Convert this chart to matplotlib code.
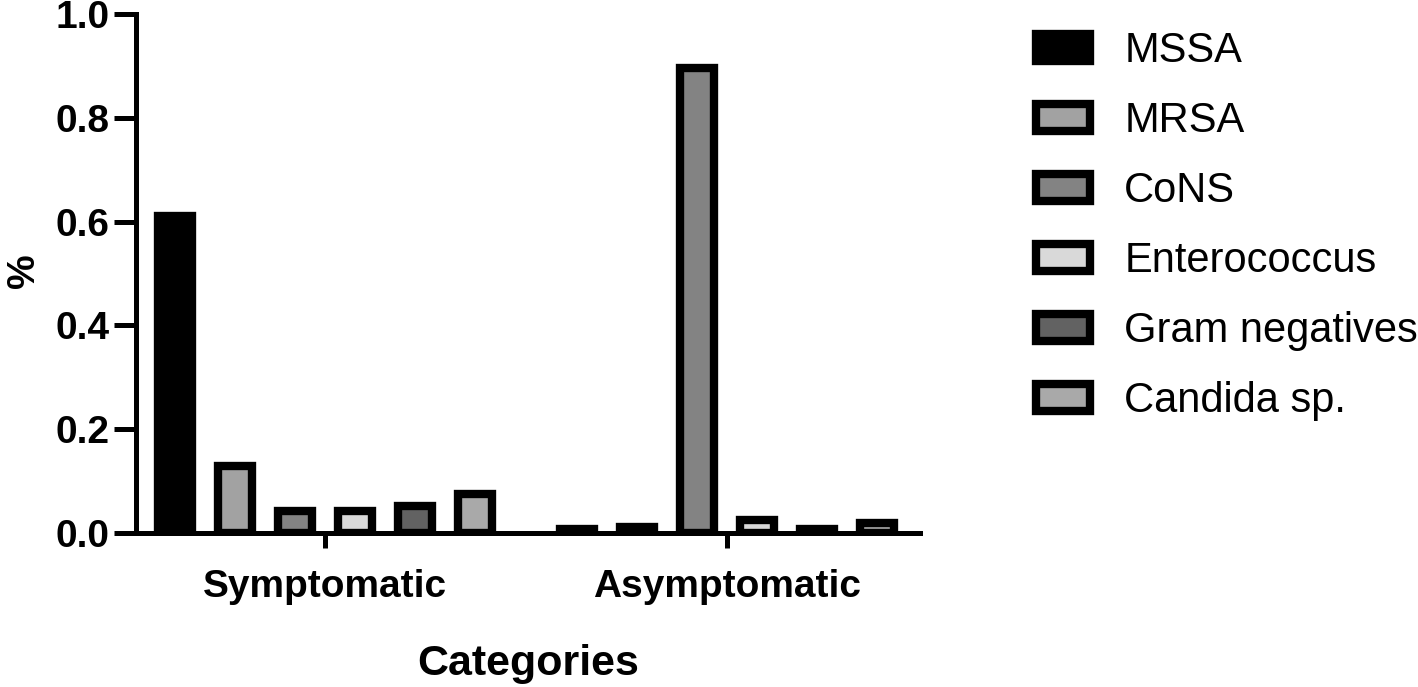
import matplotlib
matplotlib.use("Agg")
import matplotlib.pyplot as plt
import numpy as np

plt.rcParams['font.family'] = ['Liberation Sans', 'DejaVu Sans']

categories = ['Symptomatic', 'Asymptomatic']
organisms = ['MSSA', 'MRSA', 'CoNS', 'Enterococcus', 'Gram negatives', 'Candida sp.']
values = {
    'MSSA': [0.610, 0.007],
    'MRSA': [0.130, 0.012],
    'CoNS': [0.042, 0.895],
    'Enterococcus': [0.042, 0.025],
    'Gram negatives': [0.052, 0.007],
    'Candida sp.': [0.076, 0.020],
}
colors = ['#000000', '#a2a2a2', '#838383', '#d9d9d9', '#626262', '#a9a9a9']

fig = plt.figure(figsize=(14.18, 6.87), dpi=100)
ax = fig.add_axes([136 / 1418, 1 - 533 / 687, (920 - 136) / 1418, (533 - 14) / 687])

group_pos = np.array([0.0, 6.7])
width = 0.56
for i, (org, col) in enumerate(zip(organisms, colors)):
    x = group_pos + (i - 2.5)
    ax.bar(x, values[org], width=width, color=col, edgecolor='black',
           linewidth=6, label=org, zorder=2)

ax.set_xlim(-3.15, 9.92)
ax.set_ylim(0, 1.0)
ax.set_yticks([0, 0.2, 0.4, 0.6, 0.8, 1.0])
ax.set_yticklabels(['0.0', '0.2', '0.4', '0.6', '0.8', '1.0'])
ax.set_xticks(group_pos)
ax.set_xticklabels(categories)

for s in ['top', 'right']:
    ax.spines[s].set_visible(False)
for s in ['left', 'bottom']:
    ax.spines[s].set_linewidth(3.6)

ax.tick_params(axis='y', length=16, width=3.6, labelsize=28, pad=3)
ax.tick_params(axis='x', length=11, width=3.6, labelsize=28, pad=15)
for lbl in ax.get_xticklabels() + ax.get_yticklabels():
    lbl.set_fontweight('bold')

ax.set_ylabel('%', fontsize=28, fontweight='bold')
ax.yaxis.set_label_coords(-0.12, 0.505)
ax.set_xlabel('Categories', fontsize=31, fontweight='bold', labelpad=28)

leg = ax.legend(loc='upper left', bbox_to_anchor=(1036 / 1418, 1 - 31 / 687),
                bbox_transform=fig.transFigure, frameon=False, fontsize=30,
                handlelength=1.3, handleheight=0.62, labelspacing=0.72,
                handletextpad=0.82, borderpad=0, borderaxespad=0)

fig.savefig('out.png', dpi=100)
